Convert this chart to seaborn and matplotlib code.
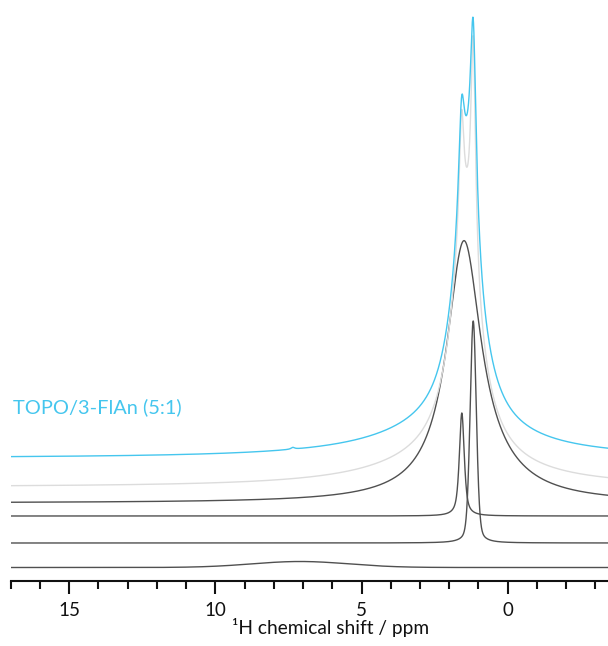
import numpy as np
import pandas as pd
import matplotlib
matplotlib.use("Agg")
import matplotlib.pyplot as plt
from matplotlib.ticker import MultipleLocator, FixedLocator
import seaborn as sns

# ---------------- data ----------------
# each spectrum: list of peaks (centre ppm, FWHM ppm, height, Lorentzian fraction)
spectrum_names = ["s6", "s5", "s4", "s3", "s2", "s1"]
offsets = [13.5, 38.0, 65.0, 78.0, 94.0, 123.0]

peaks_s6 = [(7.1, 3.9, 6.0, 0.0)]
peaks_s5 = [(1.18, 0.25, 222.0, 0.3)]
peaks_s4 = [(1.57, 0.20, 103.0, 0.7)]
peaks_s3 = [(1.50, 1.40, 242.0, 1.0), (1.0, 3.5, 22.0, 1.0)]
peaks_s2 = [(2.0, 6.0, 25.0, 1.0), (1.45, 1.2, 230.0, 1.0),
            (1.18, 0.20, 229.0, 1.0), (1.58, 0.20, 119.0, 1.0)]
peaks_s1 = [(2.0, 6.0, 28.0, 1.0), (1.40, 1.1, 240.0, 1.0),
            (1.18, 0.24, 198.0, 1.0), (1.58, 0.24, 100.0, 1.0),
            (7.35, 0.15, 1.8, 1.0)]
all_peaks = [peaks_s6, peaks_s5, peaks_s4, peaks_s3, peaks_s2, peaks_s1]

line_colors = ["#505050", "#505050", "#505050", "#505050", "#dcdcdc", "#45c6ee"]

x_major = [15, 10, 5, 0]
x_major_labels = ["15", "10", "5", "0"]
x_limits = (17.0, -3.43)
x_label = "\u00b9H chemical shift / ppm"
sample_label = "TOPO/3-FlAn (5:1)"

# ---------------- build the curves ----------------
ppm = np.linspace(x_limits[0], x_limits[1], 6000)


def spectrum(peaks):
    y = np.zeros_like(ppm)
    for c, w, h, eta in peaks:
        d = (ppm - c) / (w / 2.0)
        lor = 1.0 / (1.0 + d ** 2)
        gau = np.exp(-np.log(2.0) * d ** 2)
        y += h * (eta * lor + (1.0 - eta) * gau)
    return y


frames = []
for name, off, pk in zip(spectrum_names, offsets, all_peaks):
    frames.append(pd.DataFrame({"ppm": ppm, "intensity": spectrum(pk) + off,
                                "spectrum": name}))
df = pd.concat(frames, ignore_index=True)

# ---------------- plot ----------------
sns.set_style("white")
plt.rcParams["font.family"] = ["Lato", "DejaVu Sans"]

W, H = 608, 646
fig = plt.figure(figsize=(W / 100, H / 100), dpi=100)
ax = fig.add_axes([10.7 / W, (H - 581) / H, (W - 10.7) / W, 581 / H])

for name, col in zip(spectrum_names, line_colors):
    sub = df[df["spectrum"] == name]
    sns.lineplot(data=sub, x="ppm", y="intensity", ax=ax, color=col,
                 linewidth=1.0, estimator=None, sort=False, legend=False)

ax.set_xlim(*x_limits)
ax.set_ylim(0, 581)
ax.set_xlabel("")
ax.set_ylabel("")
ax.set_yticks([])
for s in ["left", "right", "top"]:
    ax.spines[s].set_visible(False)
ax.spines["bottom"].set_linewidth(1.5)
ax.spines["bottom"].set_color("#111111")
ax.xaxis.set_major_locator(FixedLocator(x_major))
ax.set_xticklabels(x_major_labels)
ax.xaxis.set_minor_locator(MultipleLocator(1))
ax.tick_params(axis="x", which="major", direction="out", length=9.5, width=1.5,
               color="#111111", pad=5.5, labelsize=13.5, labelcolor="#111111",
               bottom=True)
ax.tick_params(axis="x", which="minor", direction="out", length=5.8, width=1.5,
               color="#111111", bottom=True)

fig.text(331 / W, 1 - 634 / H, x_label, ha="center", va="baseline",
         fontsize=13.8, color="#111111")
fig.text(12.7 / W, 1 - 412.7 / H, sample_label, ha="left", va="baseline",
         fontsize=14.4, color="#45c6ee")

fig.savefig("out.png", dpi=100)
